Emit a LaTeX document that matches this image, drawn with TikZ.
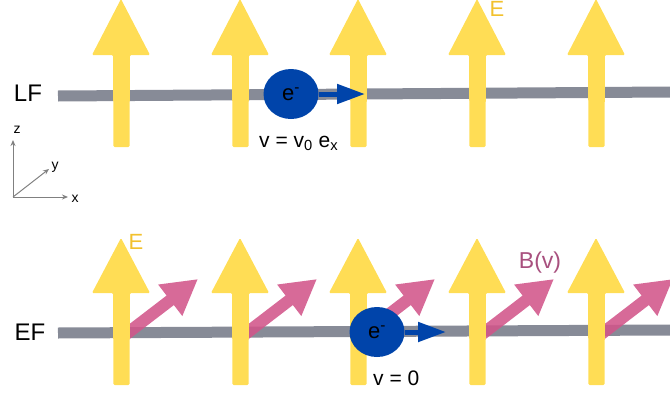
\documentclass[tikz,border=0pt]{standalone}
\usepackage{fontspec}
\setmainfont{Liberation Sans}
\usetikzlibrary{arrows.meta,shapes.geometric}
\definecolor{fyellow}{HTML}{FFDD55}
\definecolor{lyellow}{HTML}{F2C12E}
\definecolor{wire}{HTML}{878B97}
\definecolor{eblue}{HTML}{0044AA}
\definecolor{bpink}{HTML}{D2558A}
\definecolor{bpinktext}{HTML}{A8507E}
\definecolor{axgray}{HTML}{808080}
\tikzset{
  wireline/.style={wire, line width=11pt},
  efield/.style={fill=fyellow, draw=none, rounded corners=1.2pt},
  bfield/.style={bpink, line width=12pt, -{Triangle[length=35pt,width=37pt]}},
  electron/.style={ellipse, fill=eblue, minimum width=55pt, minimum height=50pt, inner sep=0pt, font=\fontsize{22}{22}\selectfont},
  velo/.style={eblue, line width=5pt, -{Triangle[length=28pt,width=19pt]}},
  lbl/.style={font=\fontsize{24}{24}\selectfont, inner sep=0pt},
  vlbl/.style={font=\fontsize{21}{21}\selectfont, inner sep=0pt, anchor=base west},
  axis/.style={axgray, line width=1pt, -{Stealth[length=6pt,width=5pt]}},
  axlbl/.style={font=\fontsize{14}{14}\selectfont, inner sep=0pt},
}
\begin{document}
\begin{tikzpicture}[x=1pt,y=-1pt]
\useasboundingbox (0,0) rectangle (670,394);
\clip (0,0) rectangle (670,394);
% ---------- LF row ----------
\draw[wireline] (58,96) -- (670,92);
\foreach \x in {121,240,358,477,596}{
  \fill[efield] (\x,-1) -- (\x+29,55) -- (\x+9,55) -- (\x+8.5,147) -- (\x-7.5,147) -- (\x-8,55) -- (\x-29,55) -- cycle;
}
\node[electron] (e1) at (291,94) {e\textsuperscript{-}};
\coordinate (v1) at (365,94);
\draw[velo] (e1.east) -- (v1);
\node[lbl] (lf) at (28,93) {LF};
\node[font=\fontsize{22}{22}\selectfont, text=lyellow, inner sep=0pt] (E1) at (497,9) {E};
\node[vlbl] (vt) at (259,147) {v = v\textsubscript{0} e\textsubscript{x}};
% axes
\coordinate (o) at (13,197);
\coordinate (zt) at (13,140);
\coordinate (yt) at (49,169);
\coordinate (xt) at (68,197);
\draw[axis] (o) -- (zt);
\draw[axis] (o) -- (yt);
\draw[axis] (o) -- (xt);
\node[axlbl] (zl) at (17,130) {z};
\node[axlbl] (yl) at (55,167) {y};
\node[axlbl] (xl) at (75,199) {x};
% ---------- EF row ----------
\draw[wireline] (58,333) -- (670,330);
\foreach \x in {121,240,358,477,596}{
  \begin{scope}[transparency group, opacity=0.88]
  \draw[bfield] (\x+4,335) -- (\x+77,279);
  \end{scope}
}
\foreach \x in {121,240,358,477,596}{
  \fill[efield] (\x,238) -- (\x+29,293) -- (\x+9,293) -- (\x+8.5,385) -- (\x-7.5,385) -- (\x-8,293) -- (\x-29,293) -- cycle;
}
\node[electron] (e2) at (377,332) {e\textsuperscript{-}};
\coordinate (v2) at (446,332);
\draw[velo] (e2.east) -- (v2);
\node[lbl] (ef) at (30,332) {EF};
\node[font=\fontsize{22}{22}\selectfont, text=lyellow, inner sep=0pt] (E2) at (136,242) {E};
\node[font=\fontsize{23}{23}\selectfont, text=bpinktext, inner sep=0pt] (B) at (540,263) {B(v)};
\node[vlbl] (vz) at (373,385) {v = 0};
\end{tikzpicture}
\end{document}
